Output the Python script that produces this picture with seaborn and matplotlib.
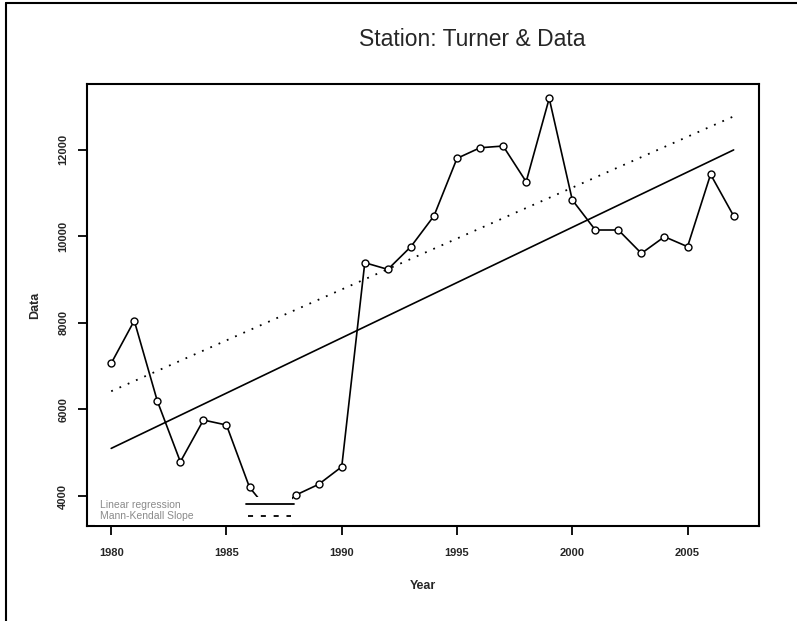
import pandas as pd
import seaborn as sns
import matplotlib.pyplot as plt
from matplotlib.lines import Line2D
from matplotlib.patches import Rectangle

# Annual values
years = list(range(1980, 2008))
values = [7065, 8050, 6195, 4790, 5755, 5640, 4200, 3550, 4020, 4270,
          4675, 9390, 9235, 9760, 10470, 11800, 12045, 12085, 11260, 13185,
          10840, 10145, 10145, 9605, 9990, 9760, 11430, 10470]

# Trend lines (start / end values)
trend_years = [1980, 2007]
linreg_vals = [5100, 11995]
mk_vals = [6420, 12770]

legend_labels = ["Linear regression", "Mann-Kendall Slope"]

df = pd.DataFrame({"Year": years, "Data": values})
trend = pd.DataFrame({"Year": trend_years, "lin": linreg_vals, "mk": mk_vals})

sns.set_style("ticks")
plt.rcParams['font.family'] = ['Liberation Sans', 'DejaVu Sans']

fig = plt.figure(figsize=(7.97, 6.21), dpi=100)
ax = fig.add_axes([87 / 797, 1 - 526 / 621, (759 - 87) / 797, (526 - 84) / 621])

sns.lineplot(data=df, x="Year", y="Data", ax=ax, color="black", lw=1.2,
             marker="o", markersize=5, markerfacecolor="white",
             markeredgecolor="black", markeredgewidth=1.0)
sns.lineplot(data=trend, x="Year", y="lin", ax=ax, color="black", lw=1.2)
sns.lineplot(data=trend, x="Year", y="mk", ax=ax, color="black", lw=1.3,
             linestyle=(0, (1, 4)))

ax.set_xlim(1978.95, 2008.1)
ax.set_ylim(3307, 13518)
ax.set_xticks([1980, 1985, 1990, 1995, 2000, 2005])
ax.set_yticks([4000, 6000, 8000, 10000, 12000])
ax.tick_params(axis="both", length=6.5, width=1.3, color="black", labelsize=8)
ax.tick_params(axis="x", pad=9)
ax.tick_params(axis="y", pad=7)
for lab in ax.get_yticklabels():
    lab.set_rotation(90)
    lab.set_va("center")
for lab in ax.get_xticklabels() + ax.get_yticklabels():
    lab.set_fontweight("bold")
for sp in ax.spines.values():
    sp.set_visible(True)
    sp.set_linewidth(1.5)
    sp.set_color("black")

ax.set_xlabel("Year", fontsize=9, fontweight="bold", labelpad=16)
ax.set_ylabel("Data", fontsize=9, fontweight="bold", labelpad=12.5)

# legend: white patch covering the series, gray text, line samples to the right
ax.add_patch(Rectangle((0.012, 0.002), 0.293, 0.064, transform=ax.transAxes,
                       facecolor="white", edgecolor="none", zorder=5))
ax.text(0.0193, 0.0475, legend_labels[0], transform=ax.transAxes, fontsize=7.5,
        color="#8a8a8a", va="center", ha="left", zorder=6)
ax.text(0.0193, 0.0226, legend_labels[1], transform=ax.transAxes, fontsize=7.5,
        color="#8a8a8a", va="center", ha="left", zorder=6)
ax.add_line(Line2D([0.2366, 0.3080], [0.0491, 0.0491], transform=ax.transAxes,
                   color="black", lw=1.3, zorder=6))
ax.add_line(Line2D([0.2396, 0.3036], [0.0233, 0.0233], transform=ax.transAxes,
                   color="black", lw=1.3, linestyle=(0, (2.8, 4.3)), zorder=6))

fig.text(472 / 797, 1 - 40 / 621, "Station: Turner & Data", ha="center",
         va="center", fontsize=16.5)

# outer frame of the original graphic window (left and top edges)
fig.add_artist(Line2D([6 / 797, 6 / 797], [0, 1 - 3 / 621],
                      transform=fig.transFigure, color="black", lw=1.5))
fig.add_artist(Line2D([6 / 797, 1], [1 - 3 / 621, 1 - 3 / 621],
                      transform=fig.transFigure, color="black", lw=1.5))

fig.savefig("out.png", dpi=100)
